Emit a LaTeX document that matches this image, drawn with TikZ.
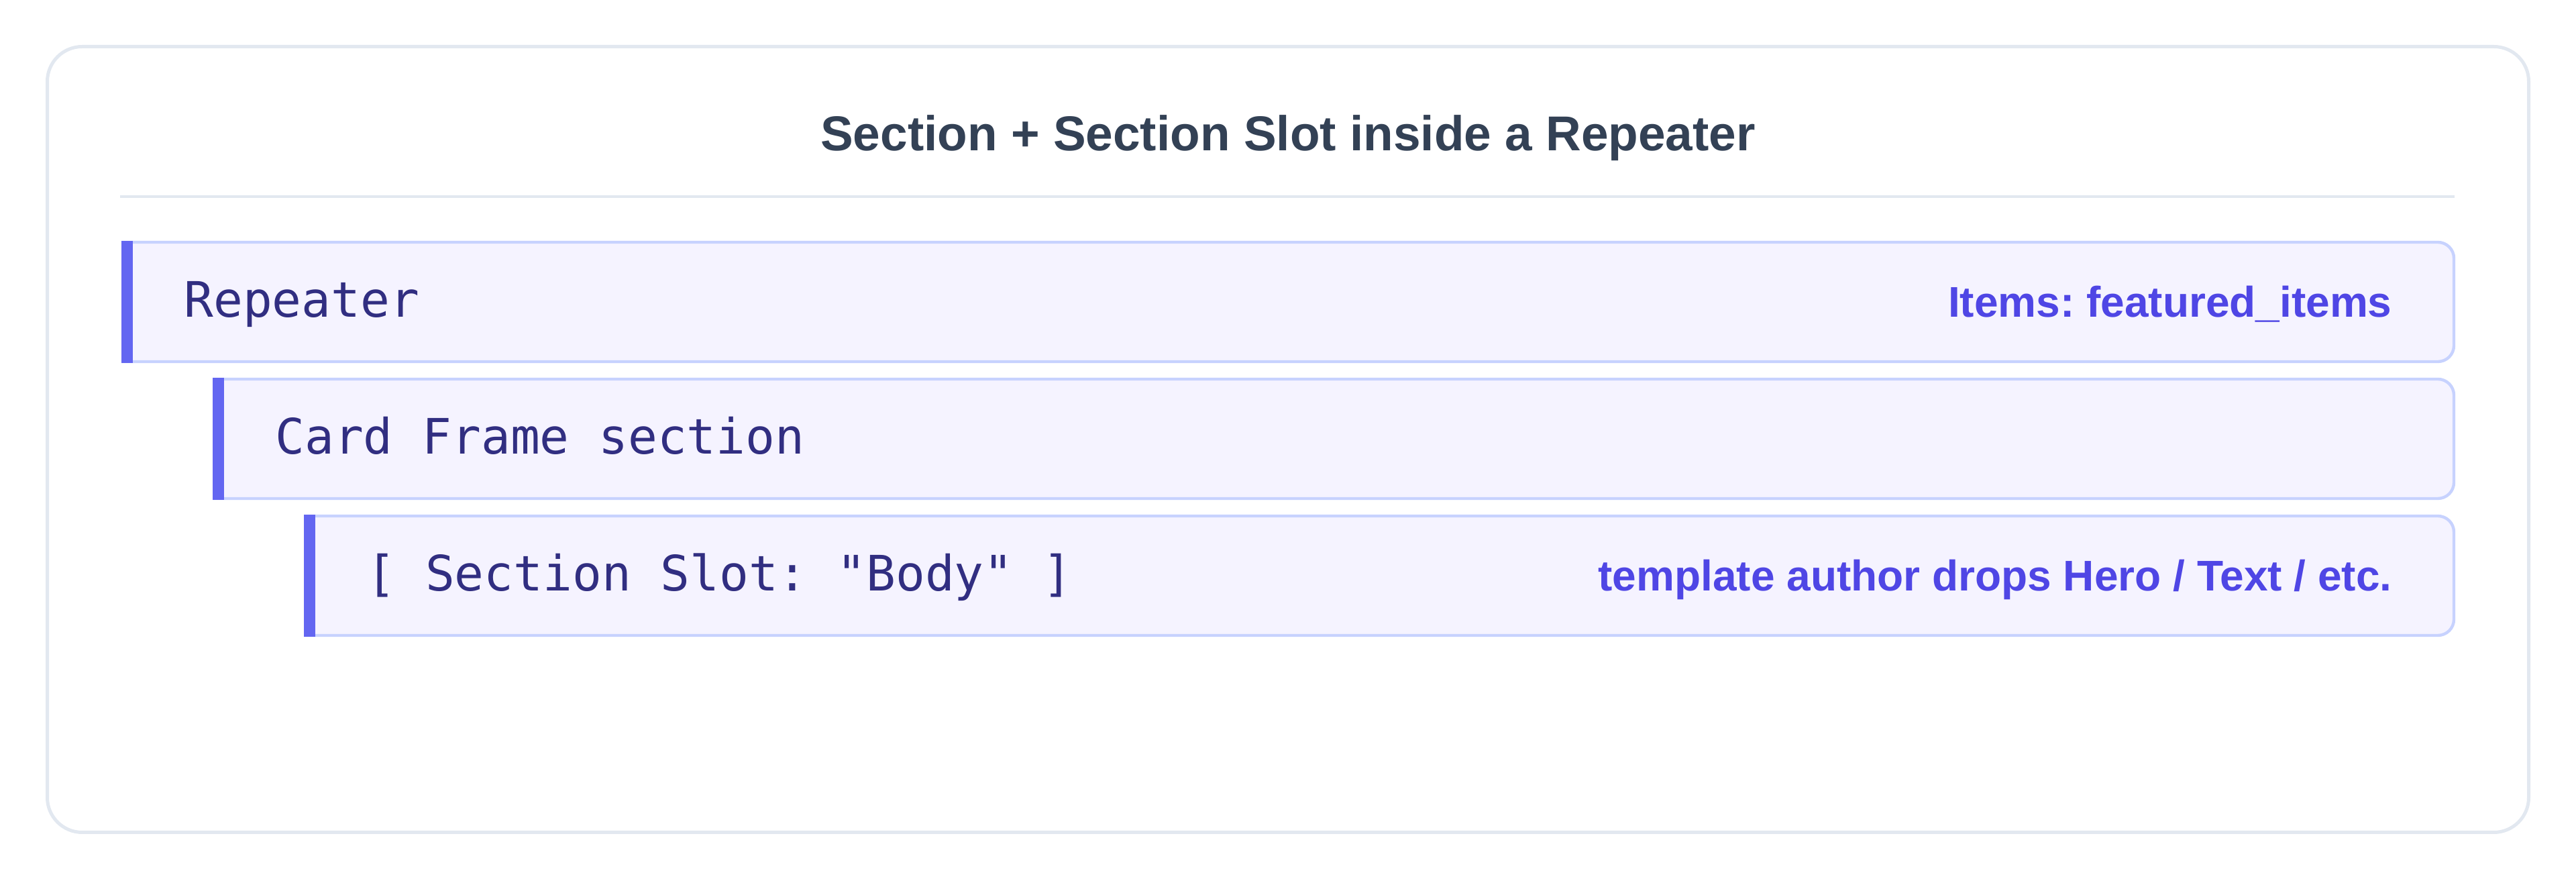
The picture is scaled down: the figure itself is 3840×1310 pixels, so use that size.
\documentclass[tikz,border=0pt]{standalone}
\usepackage{fontspec}
\setmainfont{Liberation Sans}
\setmonofont{DejaVu Sans Mono}
\usetikzlibrary{positioning}
\frenchspacing

\definecolor{framegray}{HTML}{E2E8F0}
\definecolor{titlegray}{HTML}{334155}
\definecolor{boxedge}{HTML}{C7D2FE}
\definecolor{boxfill}{HTML}{F5F3FF}
\definecolor{barblue}{HTML}{6366F1}
\definecolor{nametext}{HTML}{312E81}
\definecolor{notetext}{HTML}{4F46E5}

\tikzset{
	frame/.style={draw=framegray, line width=2.5pt, rounded corners=26pt, inner sep=0pt, outer sep=0pt},
	titletext/.style={text=titlegray, font=\fontsize{36.5pt}{40pt}\selectfont\bfseries, inner sep=0pt},
	sepline/.style={draw=framegray, line width=2pt},
	slotbox/.style={inner sep=0pt, outer sep=0pt, minimum height=89pt},
	boxline/.style={draw=boxedge, fill=boxfill, line width=2.2pt},
	bar/.style={fill=barblue},
	boxname/.style={text=nametext, font=\fontsize{36.4pt}{40pt}\selectfont\ttfamily, inner sep=0pt, anchor=base west},
	boxnote/.style={text=notetext, font=\fontsize{32pt}{36pt}\selectfont\bfseries\frenchspacing, inner sep=0pt, anchor=base east}
}

\begin{document}
\begin{tikzpicture}[x=0.5pt,y=0.5pt]
	\useasboundingbox (0,0) rectangle (3840,1310);
	
	%Rahmen
	\node (frame) [frame, minimum width=1849.5pt, minimum height=585.5pt] at (1920,655) {};
	\node (title) [titletext, anchor=base] at (1920,1085) {Section + Section Slot inside a Repeater};
	\coordinate (sepL) at (179,1017);
	\coordinate (sepR) at (3659,1017);
	\draw[sepline] (sepL) -- (sepR);
	
	%Kaesten
	\node (rep) [slotbox, minimum width=1738.5pt] at (1919.5,860) {};
	\node (card) [slotbox, minimum width=1670.5pt, below left=13pt and 0pt of rep.south east] {};
	\node (slot) [slotbox, minimum width=1602.5pt, below left=13pt and 0pt of card.south east] {};
	
	\foreach \b in {rep,card,slot} {
		\filldraw[boxline] (\b.north west) -- ([xshift=-12pt]\b.north east)
			arc[start angle=90, end angle=0, radius=12pt] -- ([yshift=12pt]\b.south east)
			arc[start angle=0, end angle=-90, radius=12pt] -- (\b.south west);
		\fill[bar] ([yshift=1pt]\b.north west) rectangle ([xshift=8.5pt,yshift=-1pt]\b.south west);
	}
	
	%Texte
	\node (repname) [boxname] at ([xshift=46.5pt,yshift=-11.5pt]rep.west) {Repeater};
	\node (repitems) [boxnote] at ([xshift=-46pt,yshift=-11.5pt]rep.east) {Items: featured\_items};
	\node (cardname) [boxname] at ([xshift=46.5pt,yshift=-11.5pt]card.west) {Card Frame section};
	\node (slotname) [boxname] at ([xshift=46.5pt,yshift=-11.5pt]slot.west) {[ Section Slot: "Body" ]};
	\node (slotnote) [boxnote] at ([xshift=-46pt,yshift=-11.5pt]slot.east) {template author drops Hero / Text / etc.};
	
\end{tikzpicture}
\end{document}
